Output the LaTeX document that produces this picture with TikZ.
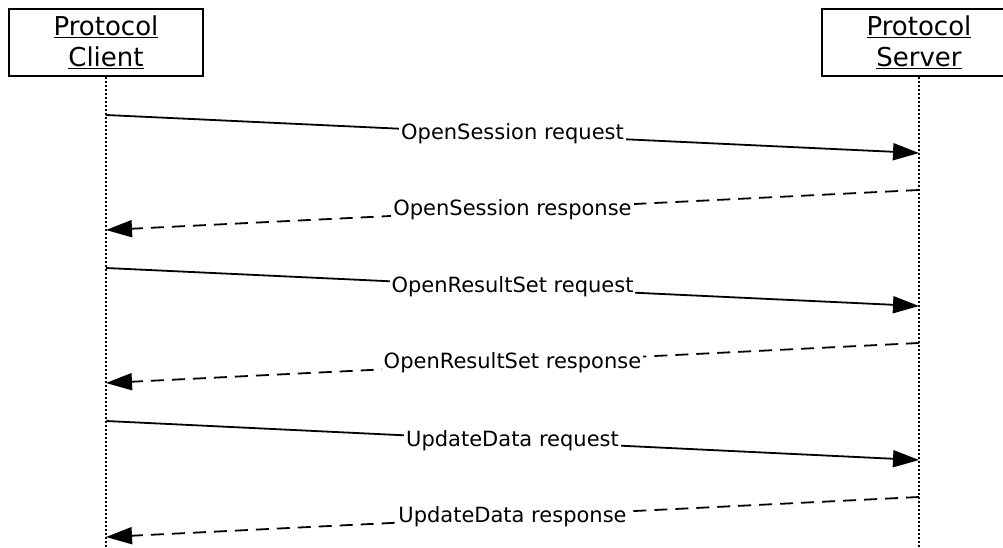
\documentclass[tikz,border=0pt]{standalone}
\usepackage{fontspec}
\setmainfont{DejaVu Sans}
\usetikzlibrary{arrows.meta}
\begin{document}
\begin{tikzpicture}[x=1pt,y=-1pt,
  actor/.style={draw,line width=2pt,minimum width=194pt,minimum height=67pt,align=center,font=\fontsize{26}{31}\selectfont,inner sep=0pt},
  lifeline/.style={line width=1.8pt,dash pattern=on 2pt off 2pt},
  msg/.style={line width=1.8pt,-{Triangle[length=26pt,width=17pt]}},
  reply/.style={msg,dash pattern=on 13pt off 8pt},
  lbl/.style={fill=white,inner sep=2pt,font=\fontsize{21}{25}\selectfont}]
\useasboundingbox (0,0) rectangle (1003,548);
\clip (0,0) rectangle (1003,548);
\node[actor] (client) at (106,42.5) {\underline{Protocol}\\\underline{Client}};
\node[actor] (server) at (919,42.5) {\underline{Protocol}\\\underline{Server}};
\coordinate (cend) at (106,548);
\coordinate (send) at (919,548);
\draw[lifeline] (client.south) -- (cend);
\draw[lifeline] (server.south) -- (send);
\coordinate (c1) at (106,115); \coordinate (s1) at (919,153);
\coordinate (s2) at (919,190); \coordinate (c2) at (106,230);
\coordinate (c3) at (106,268); \coordinate (s3) at (919,306);
\coordinate (s4) at (919,343); \coordinate (c4) at (106,383);
\coordinate (c5) at (106,421); \coordinate (s5) at (919,460);
\coordinate (s6) at (919,497); \coordinate (c6) at (106,537);
\draw[msg] (c1) -- node[lbl] (l1) {OpenSession request} (s1);
\draw[reply] (s2) -- node[lbl] (l2) {OpenSession response} (c2);
\draw[msg] (c3) -- node[lbl] (l3) {OpenResultSet request} (s3);
\draw[reply] (s4) -- node[lbl] (l4) {OpenResultSet response} (c4);
\draw[msg] (c5) -- node[lbl] (l5) {UpdateData request} (s5);
\draw[reply] (s6) -- node[lbl] (l6) {UpdateData response} (c6);
\end{tikzpicture}
\end{document}
